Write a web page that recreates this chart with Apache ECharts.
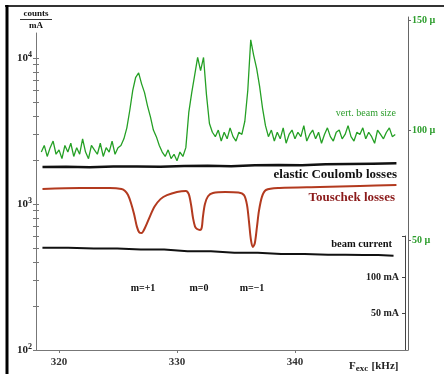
<!DOCTYPE html>
<html>
<head>
<meta charset="utf-8">
<script src="https://cdn.jsdelivr.net/npm/echarts@6/dist/echarts.min.js"></script>
<style>
  html, body { margin: 0; padding: 0; background: #fff; }
  #chart { width: 444px; height: 374px; }
</style>
</head>
<body>
<div id="chart"></div>
<script>
// vert. beam size [µ], sampled every 0.25 kHz from 318.5 kHz
const sizeStart = 318.5
const sizeStep = 0.25
const beamSize = [
  90, 93, 88, 92, 95, 89, 91, 87, 93, 90, 94, 88, 92, 89, 96, 90, 87, 93, 91, 89, 94, 88, 92, 90, 95, 89, 92, 93,
  96, 101, 109, 118, 124, 126, 121, 117, 111, 106, 100, 97, 93, 90,
  88, 91, 87, 89, 86, 90, 88,
  92, 108, 117, 125, 133, 127, 133, 116, 103, 99,
  97, 100, 95, 99, 96, 101, 97, 95, 99, 98,
  104,
  118, 141, 134, 128, 120, 110, 102,
  97, 100, 95, 99, 96, 101, 94, 98, 100, 96, 99, 97, 102, 95, 98, 100, 96, 99, 94, 98,
  101, 97, 95, 99, 100, 96, 98, 102, 97, 95, 99, 98, 101, 96, 99, 97, 94, 100, 98, 96,
  99, 101, 97, 98
]

// elastic Coulomb losses [counts/mA]
const coulombKHz = [318.6, 320.6, 322.6, 324.6, 326.6, 328.6, 330.6, 332.6, 334.6, 336.6, 338.6, 340.6, 342.6, 344.6, 346.6, 348.6]
const coulombLoss = [1790, 1800, 1785, 1805, 1810, 1800, 1820, 1830, 1815, 1840, 1850, 1845, 1870, 1880, 1890, 1900]

// Touschek losses [counts/mA]
const touschekKHz = [
  318.6, 321.8, 324.3, 325.3, 325.6, 325.85, 326.1, 326.36, 326.6, 326.8, 327.0, 327.3, 327.7, 328.1, 328.6, 329.15,
  330.0, 330.75, 331.0, 331.2, 331.36, 331.53, 331.7, 331.95, 332.1, 332.2, 332.37, 332.63, 333.05, 334.1, 335.2,
  335.68, 335.93, 336.1, 336.27, 336.44, 336.6, 336.78, 336.95, 337.2, 337.54, 338.7, 342.1, 345.5, 348.6
]
const touschekLoss = [
  1267, 1287, 1287, 1267, 1227, 1152, 1016, 854, 700, 640, 633, 690, 820, 960, 1080, 1150,
  1210, 1230, 1170, 980, 800, 700, 674, 664, 690, 820, 1000, 1130, 1190, 1210, 1200,
  1150, 990, 760, 567, 508, 541, 700, 900, 1120, 1247, 1287, 1307, 1328, 1349
]

// beam current [mA]
const currentKHz = [318.6, 323, 327, 331, 335, 339, 343, 346, 348.6]
const beamCurrent = [140, 139, 137.5, 135, 133, 131.5, 130.5, 130, 129]

// tick values
const xTicks = [320, 330, 340]
const logMajor = [100, 1000, 10000]
const logMinor = [200, 300, 400, 500, 600, 700, 800, 900, 2000, 3000, 4000, 5000, 6000, 7000, 8000, 9000]
const sizeTicks = [50, 100, 150]
const currentTicks = [50, 100]

const serif = 'Liberation Serif'
const xMin = 318.05
const xMax = 349.58

const chart = echarts.init(document.getElementById('chart'))

const sizeData = beamSize.map((v, i) => [sizeStart + i * sizeStep, v])
const coulombData = coulombKHz.map((k, i) => [k, coulombLoss[i]])
const touschekData = touschekKHz.map((k, i) => [k, touschekLoss[i]])
const currentData = currentKHz.map((k, i) => [k, beamCurrent[i]])

function hiddenX(grid) {
  return { type: 'value', gridIndex: grid, min: xMin, max: xMax, show: false }
}

function label(text, x, y, opts) {
  return {
    type: 'text',
    z: 10,
    style: Object.assign({
      text: text,
      x: x,
      y: y,
      fontFamily: serif,
      fontSize: 11,
      fontWeight: 'bold',
      fill: '#111',
      textAlign: 'left',
      textVerticalAlign: 'middle'
    }, opts || {})
  }
}

chart.setOption({
  animation: false,
  grid: [
    { left: 36, right: 36, top: 33, bottom: 24 },
    { left: 36, right: 36, top: 17, bottom: 24 },
    { left: 36, right: 39, top: 236, bottom: 24 }
  ],
  xAxis: [
    {
      type: 'value',
      gridIndex: 0,
      min: xMin,
      max: xMax,
      axisLine: { lineStyle: { color: '#777', width: 1 } },
      axisTick: { customValues: xTicks, length: 3, lineStyle: { color: '#777' } },
      axisLabel: {
        customValues: xTicks,
        margin: 7,
        color: '#333',
        fontFamily: serif,
        fontSize: 11,
        fontWeight: 'bold'
      },
      splitLine: { show: false }
    },
    hiddenX(1),
    hiddenX(2)
  ],
  yAxis: [
    {
      type: 'log',
      gridIndex: 0,
      position: 'left',
      min: 100,
      max: 14840,
      axisLine: { show: true, lineStyle: { color: '#777', width: 1 } },
      axisTick: { customValues: logMajor.concat(logMinor), length: 3, lineStyle: { color: '#777' } },
      axisLabel: {
        customValues: logMajor,
        margin: 4,
        color: '#222',
        formatter: function (v) {
          return '{b|10}{s|' + Math.round(Math.log10(v)) + '}'
        },
        rich: {
          b: { fontFamily: serif, fontSize: 11, fontWeight: 'bold', color: '#222' },
          s: { fontFamily: serif, fontSize: 8, fontWeight: 'bold', color: '#222', padding: [0, 0, 7, 0] }
        }
      },
      splitLine: { show: false }
    },
    {
      type: 'log',
      gridIndex: 0,
      position: 'left',
      min: 100,
      max: 14840,
      axisLine: { show: false },
      axisTick: { customValues: logMajor.concat(logMinor), inside: true, length: 3, lineStyle: { color: '#777' } },
      axisLabel: { show: false },
      splitLine: { show: false }
    },
    {
      type: 'value',
      gridIndex: 1,
      position: 'right',
      min: 0,
      max: 151.4,
      axisLine: { show: true, lineStyle: { color: '#666', width: 1 } },
      axisTick: { show: true, customValues: sizeTicks, length: 3, lineStyle: { color: '#666' } },
      axisLabel: {
        customValues: sizeTicks,
        formatter: '{value} µ',
        margin: 4,
        color: '#2e9e2e',
        fontFamily: serif,
        fontSize: 10,
        fontWeight: 'bold'
      },
      splitLine: { show: false }
    },
    {
      type: 'value',
      gridIndex: 2,
      position: 'right',
      min: 0,
      max: 156,
      axisLine: { show: true, lineStyle: { color: '#444', width: 1 } },
      axisTick: { show: true, customValues: [50, 100, 156], inside: true, length: 3, lineStyle: { color: '#444' } },
      axisLabel: {
        customValues: currentTicks,
        inside: true,
        formatter: '{value} mA',
        margin: 6,
        color: '#222',
        fontFamily: serif,
        fontSize: 10,
        fontWeight: 'bold'
      },
      splitLine: { show: false }
    }
  ],
  series: [
    {
      name: 'vert. beam size',
      type: 'line',
      xAxisIndex: 1,
      yAxisIndex: 2,
      data: sizeData,
      symbol: 'none',
      lineStyle: { color: '#25a025', width: 1.3 }
    },
    {
      name: 'elastic Coulomb losses',
      type: 'line',
      xAxisIndex: 0,
      yAxisIndex: 0,
      data: coulombData,
      symbol: 'none',
      lineStyle: { color: '#111', width: 2.5 }
    },
    {
      name: 'Touschek losses',
      type: 'line',
      xAxisIndex: 0,
      yAxisIndex: 0,
      data: touschekData,
      smooth: 0.3,
      symbol: 'none',
      lineStyle: { color: '#b33a1f', width: 2 }
    },
    {
      name: 'beam current',
      type: 'line',
      xAxisIndex: 2,
      yAxisIndex: 3,
      data: currentData,
      step: 'middle',
      symbol: 'none',
      lineStyle: { color: '#111', width: 2 }
    }
  ],
  graphic: [
    { type: 'line', shape: { x1: 5, y1: 6, x2: 444, y2: 6 }, style: { stroke: '#333', lineWidth: 2 } },
    { type: 'line', shape: { x1: 7, y1: 5, x2: 7, y2: 374 }, style: { stroke: '#000', lineWidth: 3 } },
    label('counts', 36, 14, { textAlign: 'center', fontSize: 9 }),
    { type: 'line', shape: { x1: 20, y1: 19.5, x2: 52, y2: 19.5 }, style: { stroke: '#333', lineWidth: 1 } },
    label('mA', 36, 26, { textAlign: 'center', fontSize: 9 }),
    label('vert. beam size', 396, 113, { textAlign: 'right', fontSize: 10, fontWeight: 'normal', fill: '#2e9e2e' }),
    label('elastic Coulomb losses', 397, 175, { textAlign: 'right', fontSize: 13 }),
    label('Touschek losses', 395, 198, { textAlign: 'right', fontSize: 13, fill: '#8b1a1a' }),
    label('beam current', 392, 244, { textAlign: 'right', fontSize: 10.5 }),
    label('m=+1', 143, 288, { textAlign: 'center', fontSize: 10 }),
    label('m=0', 199, 288, { textAlign: 'center', fontSize: 10 }),
    label('m=\u22121', 252, 288, { textAlign: 'center', fontSize: 10 }),
    {
      type: 'text',
      z: 10,
      style: {
        text: '{f|F}{s|exc} {f|[kHz]}',
        x: 349,
        y: 366,
        textVerticalAlign: 'middle',
        rich: {
          f: { fontFamily: serif, fontSize: 11, fontWeight: 'bold', fill: '#222' },
          s: { fontFamily: serif, fontSize: 9, fontWeight: 'bold', fill: '#222', padding: [5, 0, 0, 0] }
        }
      }
    }
  ]
})
</script>
</body>
</html>
